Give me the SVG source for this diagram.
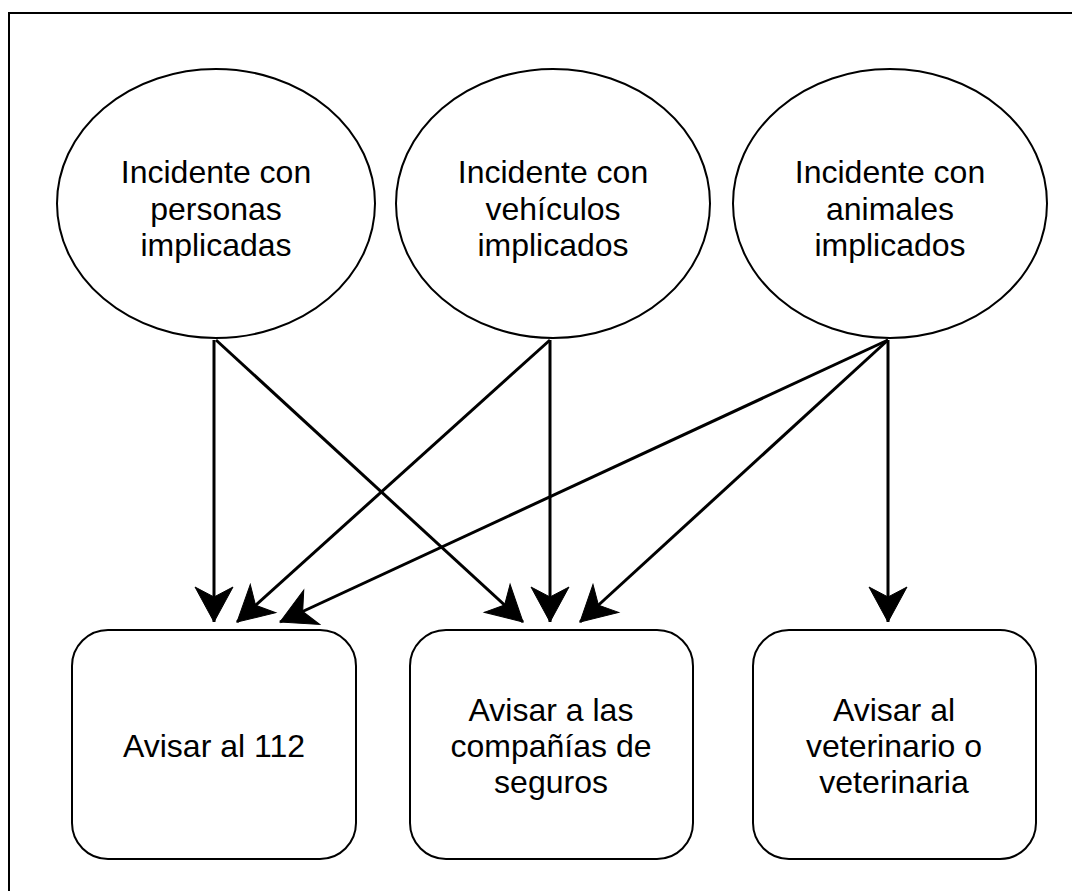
<svg xmlns="http://www.w3.org/2000/svg" width="1072" height="891" viewBox="0 0 1072 891">
<style>
.shape{fill:#fff;stroke:#000;stroke-width:2}
.lbl{font-family:"Liberation Sans",Arial,sans-serif;font-size:32px;fill:#000;text-anchor:middle}
.edge{fill:none;stroke:#000;stroke-width:3;marker-end:url(#ah)}
</style>
<defs>
<marker id="ah" markerUnits="userSpaceOnUse" markerWidth="44" markerHeight="44" viewBox="-40 -22 44 44" refX="0" refY="0" orient="auto">
<path d="M0,0 L-35,-19 L-25,0 L-35,19 Z" fill="#000" stroke="#000" stroke-width="1"/>
</marker>
</defs>
<rect x="9" y="13" width="1090" height="900" fill="#fff" stroke="#000" stroke-width="2"/>
<g id="e1"><ellipse class="shape" cx="216" cy="203.5" rx="159" ry="134.5"/>
<text class="lbl"><tspan x="216" y="183">Incidente con</tspan><tspan x="216" y="220">personas</tspan><tspan x="216" y="256">implicadas</tspan></text></g>
<g id="e2"><ellipse class="shape" cx="553" cy="203.5" rx="157" ry="134.5"/>
<text class="lbl"><tspan x="553" y="183">Incidente con</tspan><tspan x="553" y="220">vehículos</tspan><tspan x="553" y="256">implicados</tspan></text></g>
<g id="e3"><ellipse class="shape" cx="890" cy="203.5" rx="157" ry="134.5"/>
<text class="lbl"><tspan x="890" y="183">Incidente con</tspan><tspan x="890" y="220">animales</tspan><tspan x="890" y="256">implicados</tspan></text></g>
<g id="b1"><rect class="shape" x="72" y="630" width="284" height="229" rx="36"/>
<text class="lbl" x="214" y="757">Avisar al 112</text></g>
<g id="b2"><rect class="shape" x="410" y="630" width="283" height="229" rx="36"/>
<text class="lbl"><tspan x="551" y="721">Avisar a las</tspan><tspan x="551" y="757">compañías de</tspan><tspan x="551" y="793">seguros</tspan></text></g>
<g id="b3"><rect class="shape" x="753" y="630" width="283" height="229" rx="36"/>
<text class="lbl"><tspan x="894" y="721">Avisar al</tspan><tspan x="894" y="757">veterinario o</tspan><tspan x="894" y="793">veterinaria</tspan></text></g>
<g id="connectors">
<path class="edge" d="M214,340 L214,622"/>
<path class="edge" d="M216,340 L523,622"/>
<path class="edge" d="M550,340 L237,622"/>
<path class="edge" d="M550,340 L550,622"/>
<path class="edge" d="M888,340 L280,622"/>
<path class="edge" d="M888,340 L580,622"/>
<path class="edge" d="M888,340 L888,622"/>
</g>
</svg>
